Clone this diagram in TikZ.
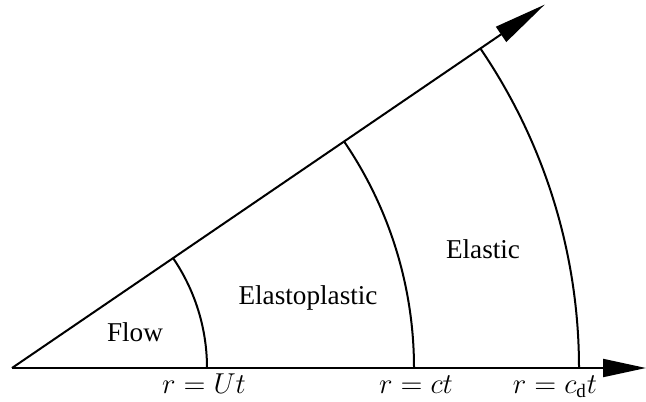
\documentclass[tikz,border=0pt]{standalone}
\usepackage{amsmath,amssymb}
\usepackage{fontspec}
\setmainfont{Liberation Serif}
\usetikzlibrary{arrows.meta}

\begin{document}
\begin{tikzpicture}[
    x=0.5pt, y=0.5pt,
    line width=1pt,
    every node/.style={inner sep=0pt,font=\fontsize{13.6pt}{16pt}\selectfont}
]
    \useasboundingbox (-12,-33) rectangle (634,368);

    \coordinate (O) at (0,0);
    \coordinate (X) at (634,0);
    \coordinate (R) at (34.3:645);
    \coordinate (U) at (195,0);
    \coordinate (C) at (402,0);
    \coordinate (D) at (567,0);

    \draw[-{Triangle[length=21.5pt,width=9pt]}] (O)--(X);
    \draw[-{Triangle[length=26.5pt,width=9pt]}] (O)--(R);
    \draw
        (U) arc[start angle=0,end angle=34.3,radius=195]
        (C) arc[start angle=0,end angle=34.3,radius=402]
        (D) arc[start angle=0,end angle=34.3,radius=567];

    \node (flow) at (123,36) {Flow};
    \node (elastoplastic) at (296,70) {Elastoplastic};
    \node (elastic) at (471,119) {Elastic};

    \foreach \name/\xpos/\lab in {labU/192/U, labc/404/c, labcd/543/c_{\mathrm{d}}}
        \node[anchor=base] (\name) at (\xpos,-25) {$r = \lab t$};
\end{tikzpicture}
\end{document}
